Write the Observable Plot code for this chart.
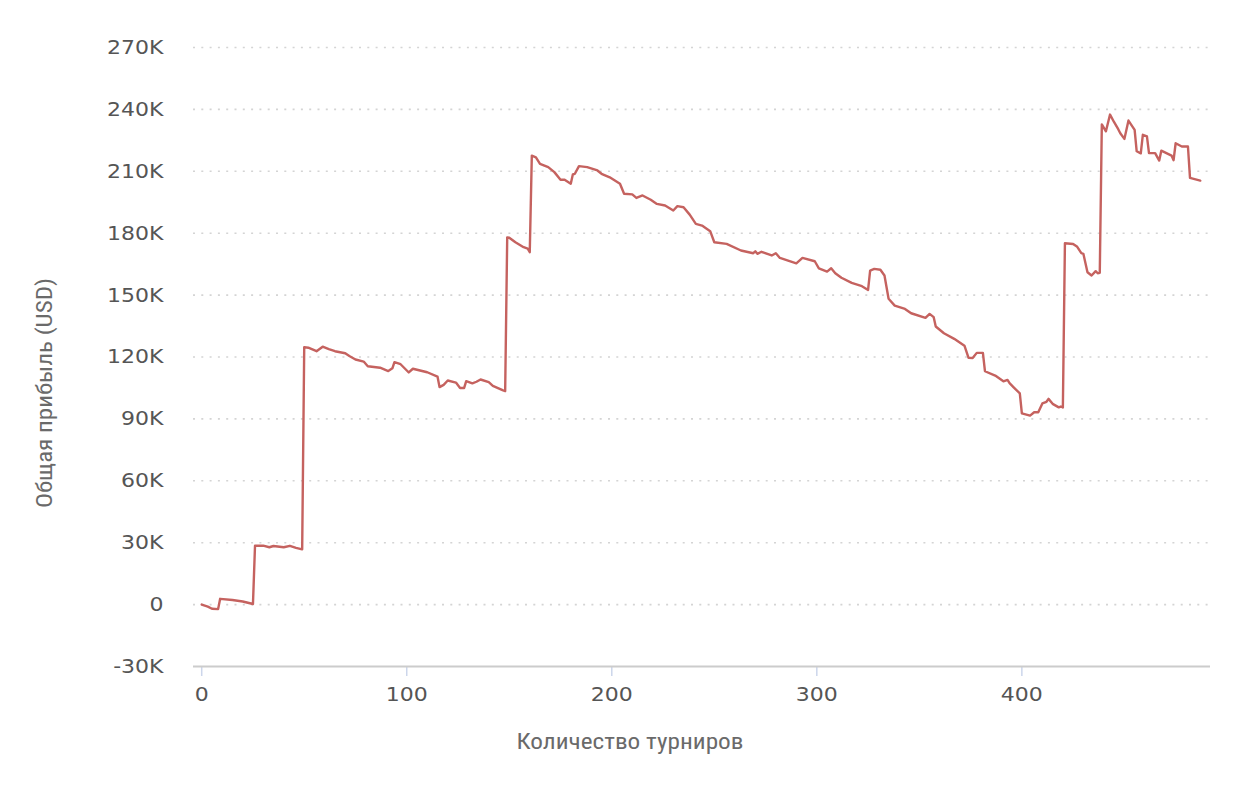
<!DOCTYPE html>
<html><head><meta charset="utf-8">
<script src="https://cdn.jsdelivr.net/npm/d3@7"></script>
<script src="https://cdn.jsdelivr.net/npm/@observablehq/plot@0.6"></script>
<style>body{margin:0;background:#fff}</style>
</head><body><div id="chart"></div>
<script>
const tournaments = [0,3,5,8,9,15,20,25,26,30,33,35,40,43,46,49,50,52,56,59,62,65,70,72,75,79,81,87,91,93,94,97,101,103,110,115,116,118,120,124,126,128,129,132,134,136,140,142,147,148,149,150,153,157,159,160,161,163,165,169,172,175,177,180,181,182,184,188,193,195,199,204,206,210,212,215,219,222,226,230,232,235,238,241,244,248,250,256,263,269,270,271,273,278,280,282,290,293,299,301,305,307,309,312,317,322,325,326,328,331,333,335,338,343,346,353,355,357,358,362,367,372,374,376,378,381,382,387,391,393,394,396,399,400,404,406,408,410,412,413,415,418,419,420,421,425,427,429,430,432,434,436,437,438,439,441,443,445,447,448,450,452,455,456,458,459,461,462,465,467,468,473,474,475,478,481,482,487];
const profitK = [0,-1,-2,-2.2,2.8,2.2,1.5,0.3,28.5,28.6,27.8,28.4,27.8,28.5,27.5,26.8,124.8,124.5,122.8,125,123.8,122.8,121.8,120.5,118.8,117.8,115.5,114.8,113.2,114.5,117.5,116.5,112.5,114.3,112.6,110.5,105.4,106.5,108.6,107.6,105,105,108.3,107.2,108,109.1,107.8,106,103.8,103.5,178,177.8,175.6,173.2,172.5,170.8,217.6,216.8,213.6,212,209.6,205.9,205.9,204,208.5,208.8,212.5,212,210.4,208.8,207.1,204,199.1,198.8,197.1,198.3,196.2,194.2,193.4,191,193.1,192.6,189,184.5,183.7,181,175.6,174.8,171.6,170.3,171.2,170,171,169.2,170.3,168,165.4,168,166.4,163,161.4,163,160.6,158.4,155.9,154.3,152.5,161.9,162.7,162.3,159.5,148.2,144.9,143.3,141.2,139,140.9,139.3,134.8,131.5,128.8,125.5,119.6,119.5,122,122,113.1,111,108.2,108.9,107.3,105.3,102.4,92.7,91.6,93.2,93.2,97.5,98.3,99.7,97.3,95.6,96,95.5,175.1,174.8,173.4,170.3,170,161.1,159.5,161.6,160.6,160.8,232.7,229.4,237.5,233.8,230.4,228.4,225.7,234.6,230.1,219.7,218.7,227.7,226.9,218.8,218.8,215.2,220,217.6,215.4,223.6,222,222,206.8,205.5];
const yTicks = [-30000,0,30000,60000,90000,120000,150000,180000,210000,240000,270000];
const yTickLabels = ["-30K","0","30K","60K","90K","120K","150K","180K","210K","240K","270K"];
const xTicks = [0,100,200,300,400];
const xTitle = "Количество турниров";
const yTitle = "Общая прибыль (USD)";

const data = tournaments.map((t, i) => ({t, p: profitK[i] * 1000}));

const chart = Plot.plot({
  width: 1260, height: 790,
  marginTop: 47, marginBottom: 124, marginLeft: 193, marginRight: 50,
  style: {fontFamily: "DejaVu Sans", fontSize: "20px", color: "#555", background: "#fff", overflow: "visible"},
  x: {domain: [-4, 492]},
  y: {domain: [-30000, 270000]},
  marks: [
    Plot.ruleY(yTicks.filter(d => d > -30000), {stroke: "#d4d4d4", strokeDasharray: "2,6.3", strokeWidth: 1.6}),
    Plot.axisY({ticks: yTicks, tickFormat: d => yTickLabels[yTicks.indexOf(d)], tickSize: 0, tickPadding: 30, label: null, fill: "#555"}),
    Plot.axisX({ticks: xTicks, tickSize: 10, tickPadding: 10, label: null, stroke: "#ccd6eb", fill: "#555", strokeWidth: 1.5}),
    Plot.ruleY([-30000], {stroke: "#cccccc", strokeWidth: 2}),
    Plot.line(data, {x: "t", y: "p", stroke: "#c5625f", strokeWidth: 2.4})
  ]
});
document.getElementById("chart").appendChild(chart);

const svg = d3.select(chart);
svg.selectAll('g[aria-label="y-axis tick label"] text, g[aria-label="x-axis tick label"] text')
  .attr("transform", function() { return (this.getAttribute("transform") || "") + " scale(1.1,1)"; });

svg.append("text")
  .attr("x", 630).attr("y", 749)
  .attr("text-anchor", "middle")
  .attr("font-family", "'Roboto Condensed', 'Liberation Sans Narrow', Roboto, sans-serif")
  .attr("font-size", 22.5)
  .attr("fill", "#6a6a6a")
  .attr("textLength", 227).attr("lengthAdjust", "spacingAndGlyphs")
  .text(xTitle);

svg.append("text")
  .attr("transform", "translate(52,393) rotate(-90)")
  .attr("text-anchor", "middle")
  .attr("font-family", "'Roboto Condensed', 'Liberation Sans Narrow', Roboto, sans-serif")
  .attr("font-size", 22.5)
  .attr("fill", "#6a6a6a")
  .attr("textLength", 230).attr("lengthAdjust", "spacingAndGlyphs")
  .text(yTitle);
</script>
</body></html>
